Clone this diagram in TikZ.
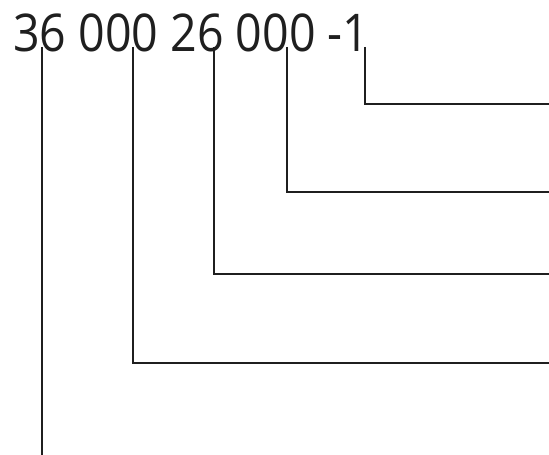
\documentclass[tikz,border=0pt]{standalone}
\usepackage{fontspec}
\newfontfamily\numfont[FakeStretch=0.895]{Open Sans}
\begin{document}
\begin{tikzpicture}[x=1pt,y=1pt,
  leader/.style={line width=2.3pt,draw=black!88},
  numtext/.style={inner sep=0pt,anchor=base west,font=\numfont\fontsize{52}{52}\selectfont,text=black!88}]
\useasboundingbox (0,0) rectangle (549,455);
\node[numtext] (num) at (13,403) {36 000 26 000 -1};
\coordinate (t1) at (365,408);
\coordinate (t2) at (287.3,408);
\coordinate (t3) at (214.3,408);
\coordinate (t4) at (133.3,408);
\coordinate (t5) at (41.7,408);
\coordinate (e1) at (549,351);
\coordinate (e2) at (549,263);
\coordinate (e3) at (549,181);
\coordinate (e4) at (549,92);
\coordinate (e5) at (41.7,0);
\draw[leader] (t1) |- (e1);
\draw[leader] (t2) |- (e2);
\draw[leader] (t3) |- (e3);
\draw[leader] (t4) |- (e4);
\draw[leader] (t5) -- (e5);
\end{tikzpicture}
\end{document}
